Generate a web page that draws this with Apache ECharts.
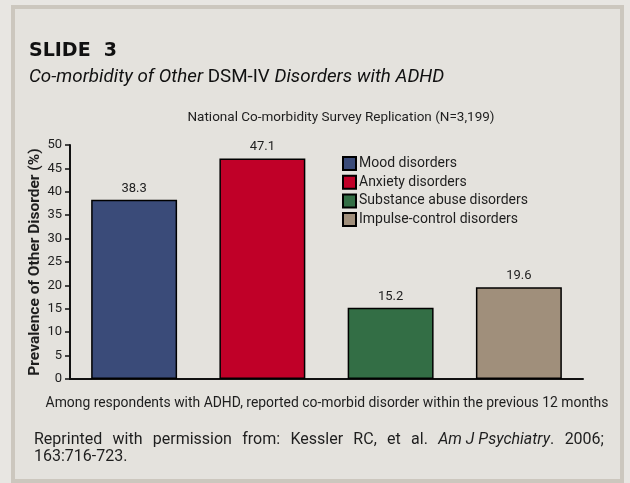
<!DOCTYPE html>
<html>
<head>
<meta charset="utf-8">
<script src="https://cdn.jsdelivr.net/npm/echarts@6/dist/echarts.min.js"></script>
<style>
  html, body { margin: 0; padding: 0; background: #e8e6e2; }
  #chart { width: 630px; height: 483px; }
</style>
</head>
<body>
<div id="chart"></div>
<script>
const categories = ['Mood disorders', 'Anxiety disorders', 'Substance abuse disorders', 'Impulse-control disorders']
const values = [38.3, 47.1, 15.2, 19.6]
const colors = ['#3a4b79', '#c00028', '#336e45', '#a08f7b']
const yTicks = { min: 0, max: 50, interval: 5 }

const font = 'Roboto, sans-serif'
const ink = '#1e1e1e'

// footer is justified in the original, so pad the gaps between words
const footerWords = ['Reprinted', 'with', 'permission', 'from:', 'Kessler', 'RC,', 'et', 'al.', '{i|Am J Psychiatry}{n|.}', '2006;']
const footerLine1 = footerWords.map(w => (w.startsWith('{') ? w : '{n|' + w + '}')).join('{s| }')

// one series per category so each gets a legend entry
const series = categories.map((name, i) => ({
  name,
  type: 'bar',
  stack: 'all',
  barWidth: '67%',
  data: values.map((v, j) => (j === i ? v : '-')),
  itemStyle: { color: colors[i], borderColor: '#000', borderWidth: 1.5 },
  label: {
    show: true,
    position: 'top',
    distance: 5,
    color: ink,
    fontFamily: font,
    fontSize: 13
  }
}))

const chart = echarts.init(document.getElementById('chart'), null, { renderer: 'canvas' })
chart.setOption({
  backgroundColor: '#e8e6e2',
  animation: false,
  graphic: [
    {
      type: 'rect',
      shape: { x: 13, y: 7, width: 609, height: 474 },
      style: { fill: '#e4e2dd', stroke: '#ccc7be', lineWidth: 4 },
      z: -10
    }
  ],
  title: [
    {
      text: 'SLIDE  3',
      left: 24,
      top: 37,
      textStyle: { fontFamily: '"DejaVu Sans", sans-serif', fontWeight: 'bold', fontSize: 19, color: '#111' }
    },
    {
      text: '{i|Co-morbidity of Other }{n|DSM-IV }{i|Disorders with ADHD}',
      left: 24,
      top: 63,
      textStyle: {
        rich: {
          i: { fontFamily: font, fontStyle: 'italic', fontWeight: 'normal', fontSize: 18.8, color: '#111' },
          n: { fontFamily: font, fontWeight: 'normal', fontSize: 18.8, color: '#111' }
        }
      }
    },
    {
      text: 'National Co-morbidity Survey Replication (N=3,199)',
      left: 336,
      textAlign: 'center',
      top: 106,
      textStyle: { fontFamily: font, fontWeight: 'normal', fontSize: 13.5, color: ink }
    },
    {
      text: 'Among respondents with ADHD, reported co-morbid disorder within the previous 12 months',
      left: 322,
      textAlign: 'center',
      top: 392,
      textStyle: { fontFamily: font, fontWeight: 'normal', fontSize: 13.9, color: ink }
    },
    {
      text: footerLine1 + '\n{n|163:716-723.}',
      left: 29,
      top: 426,
      textStyle: {
        rich: {
          n: { fontFamily: font, fontWeight: 'normal', fontSize: 16, color: ink, lineHeight: 17 },
          i: { fontFamily: font, fontStyle: 'italic', fontWeight: 'normal', fontSize: 16, color: ink, lineHeight: 17 },
          s: { fontFamily: font, fontSize: 16, width: 10.3, lineHeight: 17 }
        }
      }
    }
  ],
  legend: {
    orient: 'vertical',
    left: 342,
    top: 156,
    padding: 0,
    icon: 'rect',
    itemWidth: 13,
    itemHeight: 13,
    itemGap: 3.7,
    itemStyle: { borderColor: '#000', borderWidth: 2 },
    textStyle: { fontFamily: font, fontSize: 14, color: ink, padding: [0, 0, 0, -2] },
    data: categories
  },
  grid: { left: 70, right: 47, top: 145, bottom: 104 },
  xAxis: {
    type: 'category',
    data: categories,
    axisLine: { lineStyle: { color: '#111', width: 2 } },
    axisTick: { show: false },
    axisLabel: { show: false }
  },
  yAxis: {
    type: 'value',
    min: yTicks.min,
    max: yTicks.max,
    interval: yTicks.interval,
    name: 'Prevalence of Other Disorder (%)',
    nameLocation: 'middle',
    nameGap: 27,
    nameMoveOverlap: false,
    nameTextStyle: { fontFamily: font, fontWeight: 'bold', fontSize: 15.5, color: ink },
    axisLine: { show: true, lineStyle: { color: '#111', width: 2 } },
    axisTick: { show: true, length: 5, lineStyle: { color: '#111', width: 1.5 } },
    axisLabel: { fontFamily: font, fontSize: 13, color: ink, margin: 8 },
    splitLine: { show: false }
  },
  series
})
</script>
</body>
</html>
